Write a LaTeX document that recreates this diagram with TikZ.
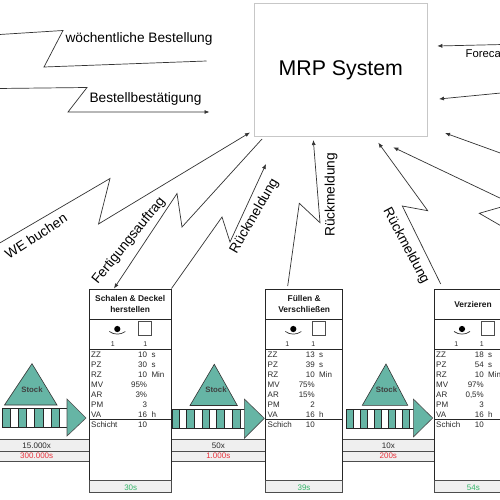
\documentclass[tikz,border=0pt]{standalone}
\usepackage{fontspec}
\setmainfont{Liberation Sans}
\usetikzlibrary{calc,arrows.meta}
\definecolor{teal1}{HTML}{66B5A5}
\definecolor{rowgrey}{HTML}{EFEFEF}
\definecolor{dtxt}{HTML}{2A2A2A}
\definecolor{redt}{HTML}{E8323C}
\definecolor{greent}{HTML}{35B56A}
\newcount\dn
\newcommand{\fs}[1]{\fontsize{#1}{#1}\selectfont}
\tikzset{
  x=1pt,y=-1pt,
  conn/.style={draw=black!80,line width=0.7pt,line join=miter},
  connar/.style={conn,-{Latex[length=5pt,width=4pt]}},
  biglab/.style={inner sep=0pt,font=\fs{13.7}},
  procbox/.style={draw=black!85,line width=0.8pt,inner sep=0pt,outer sep=0pt,anchor=north west,minimum height=203.5pt},
  rule/.style={draw=black!85,line width=0.8pt},
  greyrow/.style={draw=black!70,line width=0.7pt,fill=rowgrey},
  small/.style={inner sep=0pt,font=\fs{8},text=dtxt},
  titlet/.style={inner sep=0pt,font=\fs{8.4}\bfseries,align=center,text=black!90},
  stockt/.style={draw=black!80,line width=0.6pt,fill=teal1,line join=miter},
  stocklab/.style={inner sep=0pt,font=\fs{7.8}\bfseries,text=black!75},
  stripe/.style={draw=black!85,line width=0.6pt},
}
% data row: left x, value right x, y, label, value, unit
\newcommand{\drow}[6]{%
  \global\advance\dn by 1
  \node[small,anchor=west] (lb\the\dn) at (#1,#3) {#4};
  \node[small,anchor=east] (vl\the\dn) at (#2,#3) {#5};
  \node[small,anchor=west] (un\the\dn) at ($(#2,#3)+(4,0)$) {#6};
}
% eye icon: centre, square left, count xs
\newcommand{\icons}[4]{%
  \fill[black] (#1,329) circle (3.1);
  \draw[black!80,line width=0.7pt] ($(#1,329)+(-8,2.5)$) .. controls ($(#1,329)+(-3,6)$) and ($(#1,329)+(3,6)$) .. ($(#1,329)+(8,2.5)$);
  \draw[black!70,line width=0.7pt,fill=white] (#2,321.7) rectangle ($(#2,335.7)+(13.2,0)$);
  \global\advance\dn by 1
  \node[small,font=\fs{7}] (ca\the\dn) at (#3,344.5) {1};
  \node[small,font=\fs{7}] (cb\the\dn) at (#4,344.5) {1};
}
\newcommand{\stripes}[3]{%
  \foreach \a/\b/\c in {#3} {
    \fill[teal1,stripe] (\a,#1) rectangle (\b,#2);
    \fill[white,stripe] (\b,#1) rectangle (\c,#2);
  }
}
\begin{document}
\begin{tikzpicture}
\useasboundingbox (0,0) rectangle (500,500);
\clip (0,0) rectangle (500,500);
\fill[white] (0,0) rectangle (500,500);

% MRP
\node[draw=black!22,line width=0.9pt,inner sep=0pt,outer sep=0pt,minimum width=173pt,minimum height=133pt,font=\fs{21.3}] (mrp) at (340.8,70) {MRP System};

% grey rows between processes
\foreach \l/\r in {-5/89.3,171/265.7,342.7/434.3} {
  \draw[greyrow] (\l,439.3) rectangle (\r,451);
  \draw[greyrow] (\l,451) rectangle (\r,461);
}

% process boxes
\node[procbox,minimum width=81.7pt] (p1) at (89.3,289) {};
\node[procbox,minimum width=77pt] (p2) at (265.7,289) {};
\node[procbox,minimum width=90pt] (p3) at (434.3,289) {};
\foreach \l/\r in {89.3/171,265.7/342.7,434.3/524.3} {
  \draw[rule] (\l,319) -- (\r,319);
  \draw[rule] (\l,349) -- (\r,349);
  \draw[rule] (\l,419.3) -- (\r,419.3);
  \draw[greyrow] (\l,480.7) rectangle (\r,492.5);
}
\node[titlet] (t1) at (130.2,304) {Schalen \& Deckel\\[3.2pt]herstellen};
\node[titlet] (t2) at (304.2,304) {Füllen \&\\[3.2pt]Verschließen};
\node[titlet] (t3) at (473,304) {Verzieren};

\icons{117.3}{138.3}{112.7}{145.3}
\icons{293.3}{312.4}{287.3}{313.3}
\icons{462}{481.1}{456.3}{481.7}

\drow{91}{147.3}{355}{ZZ}{10}{s}
\drow{91}{147.3}{365}{PZ}{30}{s}
\drow{91}{147.3}{375}{RZ}{10}{Min}
\drow{91}{147.3}{385}{MV}{95\%}{}
\drow{91}{147.3}{395}{AR}{3\%}{}
\drow{91}{147.3}{405}{PM}{3}{}
\drow{91}{147.3}{415}{VA}{16}{h}
\drow{91}{147.3}{425}{Schicht}{10}{}

\drow{267.5}{315}{355}{ZZ}{13}{s}
\drow{267.5}{315}{365}{PZ}{39}{s}
\drow{267.5}{315}{375}{RZ}{10}{Min}
\drow{267.5}{315}{385}{MV}{75\%}{}
\drow{267.5}{315}{395}{AR}{15\%}{}
\drow{267.5}{315}{405}{PM}{2}{}
\drow{267.5}{315}{415}{VA}{16}{h}
\drow{267.5}{315}{425}{Schich}{10}{}

\drow{436}{484}{355}{ZZ}{18}{s}
\drow{436}{484}{365}{PZ}{54}{s}
\drow{436}{484}{375}{RZ}{10}{Min}
\drow{436}{484}{385}{MV}{97\%}{}
\drow{436}{484}{395}{AR}{0,5\%}{}
\drow{436}{484}{405}{PM}{3}{}
\drow{436}{484}{415}{VA}{16}{h}
\drow{436}{484}{425}{Schich}{10}{}

% row labels
\node[small] (r1a) at (36.7,445.3) {15.000x};
\node[small,text=redt] (r1b) at (36.7,456) {300.000s};
\node[small] (r2a) at (218.3,445.3) {50x};
\node[small,text=redt] (r2b) at (218.3,456) {1.000s};
\node[small] (r3a) at (388.3,445.3) {10x};
\node[small,text=redt] (r3b) at (388.3,456) {200s};
\node[small,text=greent] (g1) at (130.7,488) {30s};
\node[small,text=greent] (g2) at (304,488) {39s};
\node[small,text=greent] (g3) at (473.3,488) {54s};

% stock bars and arrows
\stripes{408}{427.5}{2.7/10/18.3,18.3/26.7/34.3,34.3/43/51.7,51.7/59.3/67}
\draw[stockt,draw=black!70] (67,399) -- (86,418) -- (67,436) -- cycle;
\stripes{409}{428.3}{172.3/179.3/186.7,186.7/194.3/202.7,202.7/209.3/216.7,216.7/224.3/232.3,232.3/240/246.7}
\draw[stockt,draw=black!70] (244.3,399) -- (264.3,418.3) -- (244.3,438.3) -- cycle;
\stripes{409}{428}{346/353.3/360.7,360.7/367.3/374.3,374.3/381.7/388.3,388.3/395.7/402.7,402.7/409.3/416.7}
\draw[stockt,draw=black!70] (413.3,399) -- (432.7,418) -- (413.3,437) -- cycle;

\draw[stockt] (32,363.7) -- (57,405) -- (4.5,405) -- cycle;
\node[stocklab] (s1) at (32,389.5) {Stock};
\draw[stockt] (214.3,364.3) -- (237.3,405.5) -- (190,405.5) -- cycle;
\node[stocklab] (s2) at (216,390) {Stock};
\draw[stockt] (386,364) -- (407.7,405.3) -- (362.3,405.3) -- cycle;
\node[stocklab] (s3) at (386.5,390) {Stock};

% connector points
\coordinate (a0) at (-2,34.6); \coordinate (a1) at (63,30.5); \coordinate (a2) at (44,67); \coordinate (a3) at (206.5,61);
\coordinate (b0) at (-2,88.5); \coordinate (b1) at (87,87.5); \coordinate (b2) at (68,112); \coordinate (b3) at (209.5,112);
\coordinate (c0) at (-2,244); \coordinate (c1) at (110,178.5); \coordinate (c2) at (98.5,224); \coordinate (c3) at (250,132.5);
\coordinate (d0) at (262,139); \coordinate (d1) at (182,227); \coordinate (d2) at (177,193.5); \coordinate (d3) at ($(p1.north west)+(24.7,-0.5)$);
\coordinate (e0) at ($(p1.north east)+(0.5,-0.5)$); \coordinate (e1) at (222,217); \coordinate (e2) at (230,242); \coordinate (e3) at (266,164);
\coordinate (f0) at (287.7,286); \coordinate (f1) at (299.3,203.3); \coordinate (f2) at (320,222.7); \coordinate (f3) at (313.3,140);
\coordinate (g0) at (440.7,284); \coordinate (g1c) at (402.3,206); \coordinate (g2c) at (427.7,210.7); \coordinate (g3c) at (378.3,142.7);
\coordinate (h0) at (503,199.5); \coordinate (h3) at (393.3,147.3);
\coordinate (i0) at (503,206.5); \coordinate (i1) at (479.3,213.3); \coordinate (i2) at (503,227);
\coordinate (j0) at (503,154); \coordinate (j3) at (445,133);
\coordinate (k0) at (503,44.5); \coordinate (k3) at (437.3,46);
\coordinate (l0) at (503,92.8); \coordinate (l3) at (439,99);

\draw[conn] (a0) -- (a1) -- (a2) -- (a3);
\draw[connar] (b0) -- (b1) -- (b2) -- (b3);
\draw[connar] (c0) -- (c1) -- (c2) -- (c3);
\draw[connar] (d0) -- (d1) -- (d2) -- (d3);
\draw[connar] (e0) -- (e1) -- (e2) -- (e3);
\draw[connar] (f0) -- (f1) -- (f2) -- (f3);
\draw[connar] (g0) -- (g1c) -- (g2c) -- (g3c);
\draw[connar] (h0) -- (h3);
\draw[conn] (i0) -- (i1) -- (i2);
\draw[connar] (j0) -- (j3);
\draw[connar] (k0) -- (k3);
\draw[connar] (l0) -- (l3);

% big labels
\node[biglab] (lw) at (139,38.5) {wöchentliche Bestellung};
\node[biglab] (lb) at (145.5,98.5) {Bestellbestätigung};
\node[biglab,rotate=33] (lwe) at (36,236) {WE buchen};
\node[biglab,rotate=51] (lf) at (129,241) {Fertigungsauftrag};
\node[biglab,rotate=60] (lr1) at (254.5,216) {Rückmeldung};
\node[biglab,rotate=90] (lr2) at (331,195) {Rückmeldung};
\node[biglab,rotate=-62] (lr3) at (406,246) {Rückmeldung};
\node[inner sep=0pt,font=\fs{11.3},anchor=west] (lfc) at (465.5,54) {Forecast};
\end{tikzpicture}
\end{document}
